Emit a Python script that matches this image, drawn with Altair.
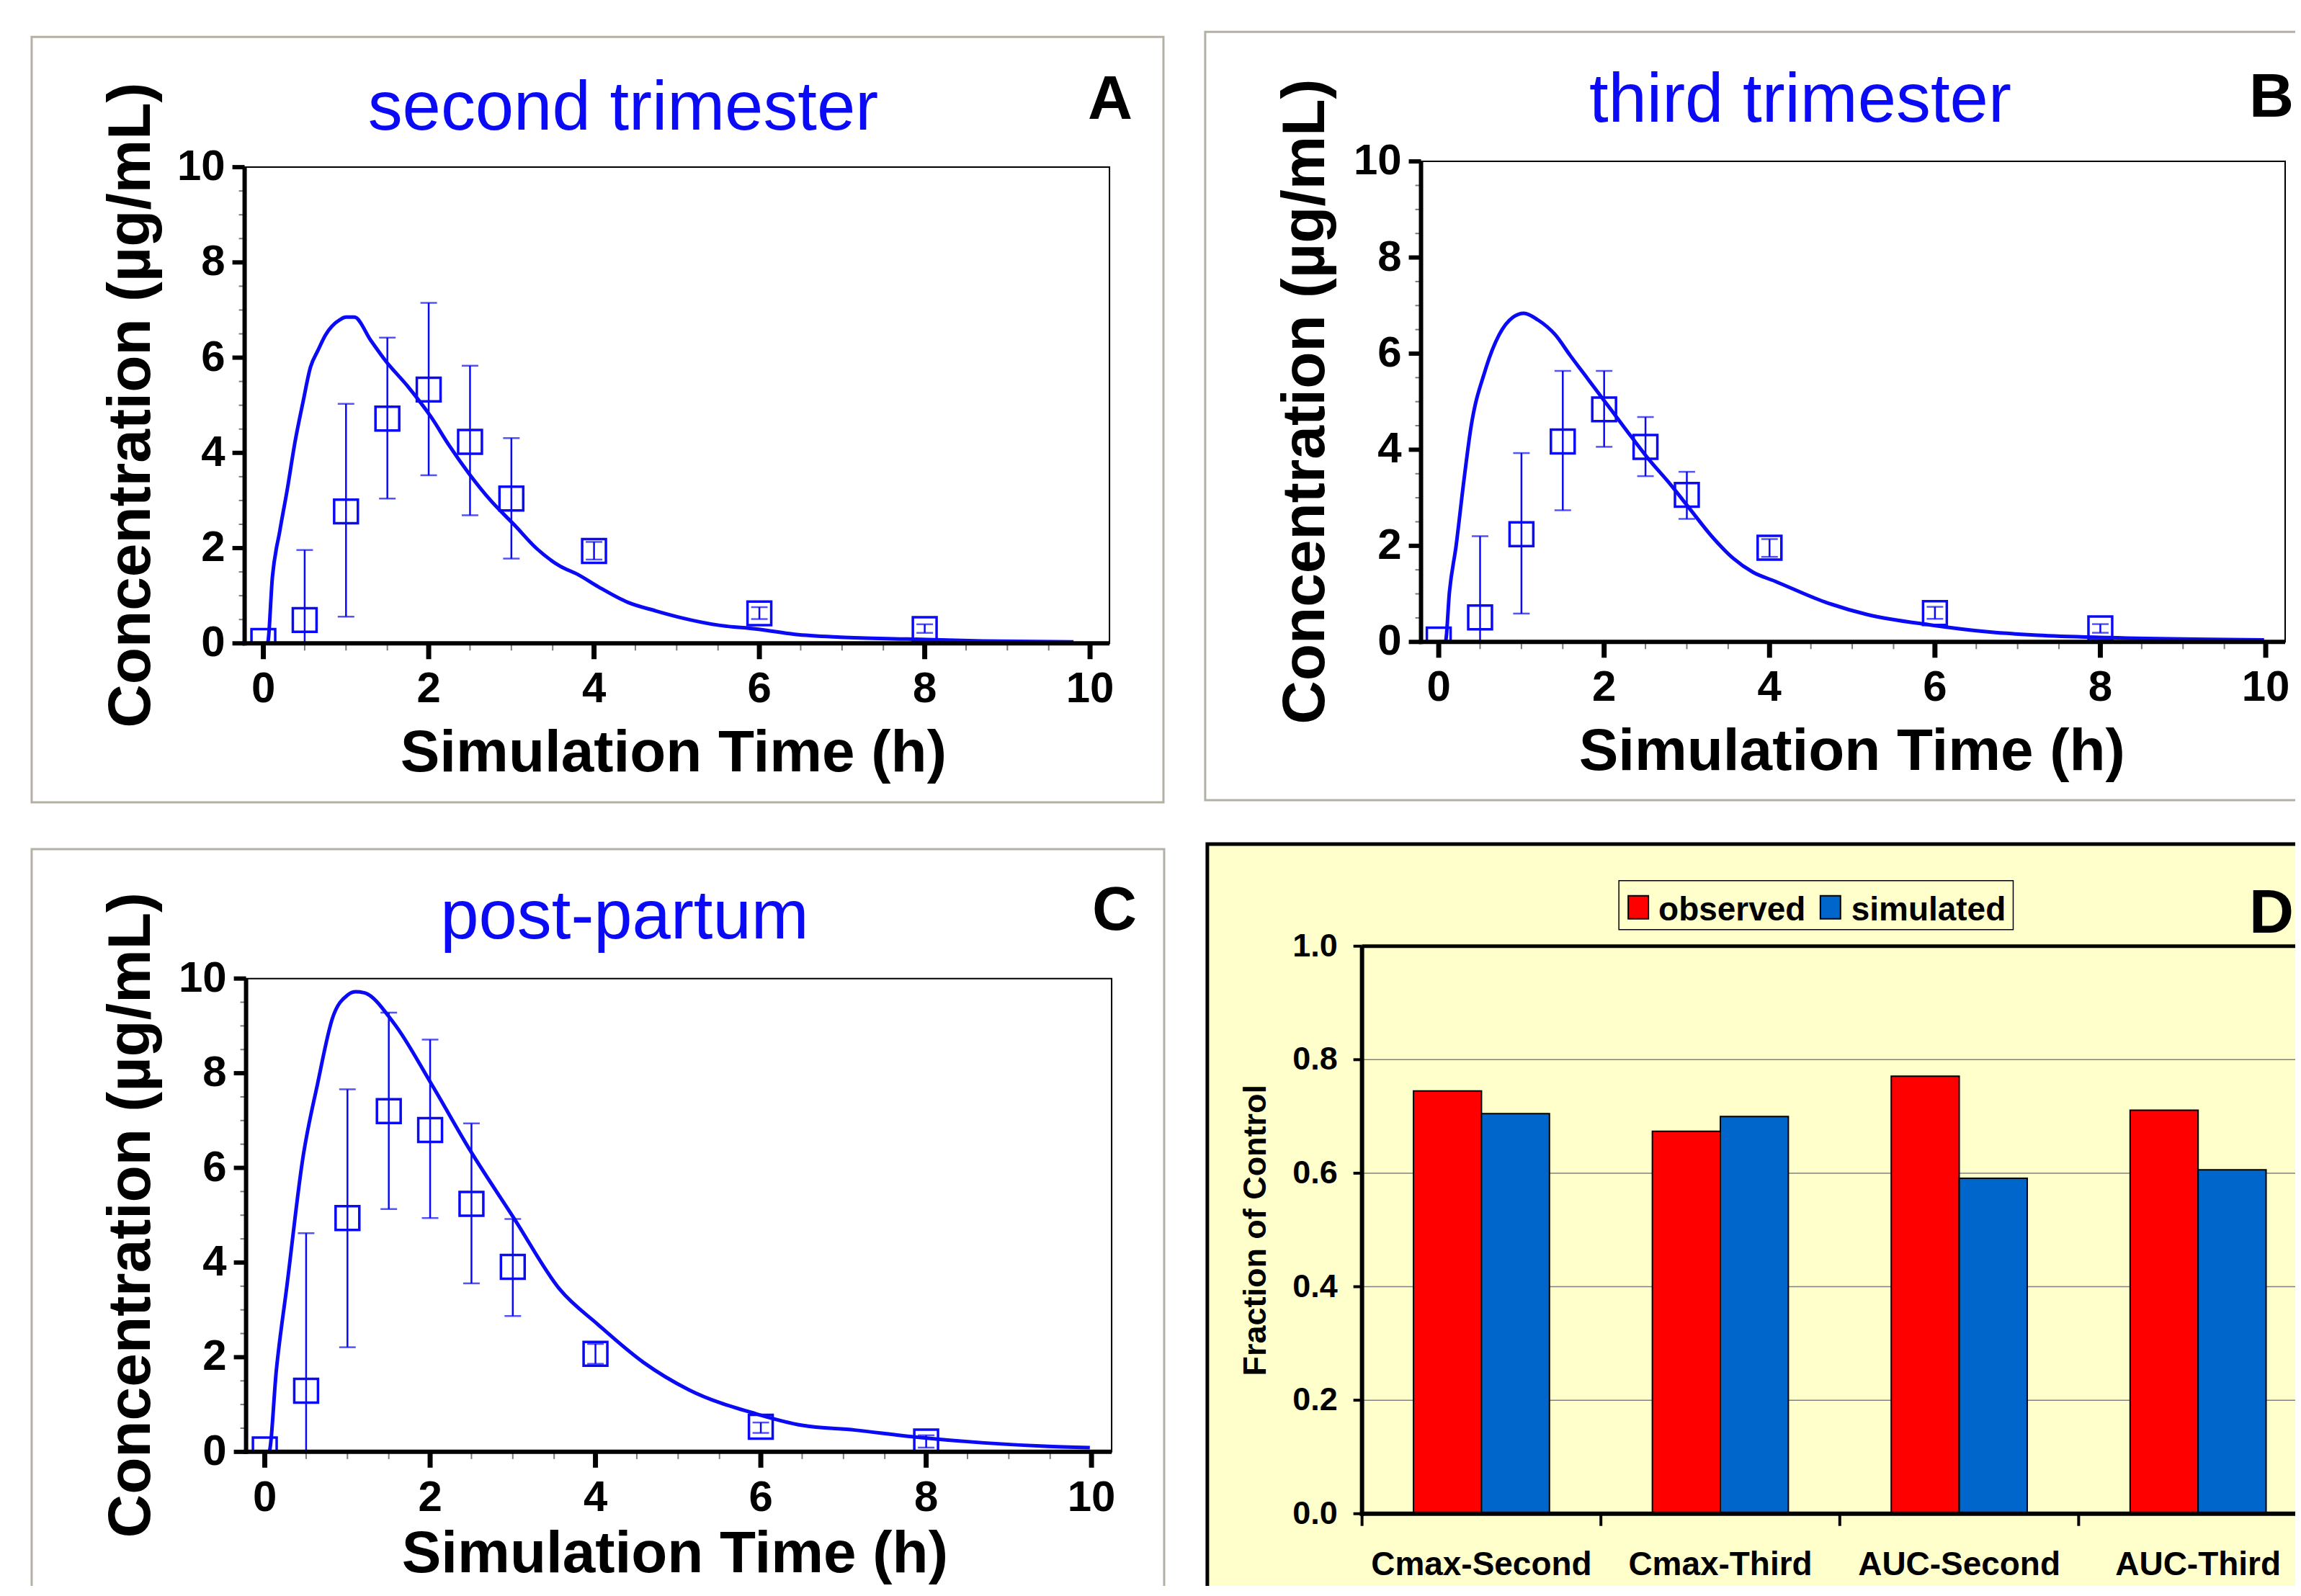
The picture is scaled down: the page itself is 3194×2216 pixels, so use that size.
import altair as alt
import pandas as pd

FONT = "Liberation Sans"
BLUE = "#0A0AF5"
GRAYBORDER = "#B4B0A4"

# ---------------- data ----------------
t_obs = [0, 0.5, 1, 1.5, 2, 2.5, 3, 4, 6, 8]

a_mean = [0.05, 0.49, 2.77, 4.72, 5.33, 4.23, 3.04, 1.94, 0.63, 0.30]
a_low = [0.0, 0.0, 0.56, 3.04, 3.53, 2.69, 1.78, 1.76, 0.51, 0.22]
a_high = [0.0, 1.96, 5.03, 6.42, 7.15, 5.83, 4.31, 2.13, 0.76, 0.40]
a_sim_t = [0, 0.05, 0.11, 0.2, 0.29, 0.38, 0.48, 0.57, 0.66, 0.75, 0.93, 1.0, 1.1, 1.3,
           1.48, 1.75, 2.03, 2.25, 2.49, 2.75, 3.04, 3.3, 3.59, 3.8, 4.05, 4.41, 4.75,
           5.05, 5.51, 5.97, 6.43, 6.98, 7.8, 8.7, 9.8]
a_sim_c = [0, 0.0, 1.4, 2.37, 3.24, 4.2, 5.07, 5.8, 6.15, 6.47, 6.8, 6.85, 6.85, 6.36,
           5.93, 5.39, 4.75, 4.15, 3.56, 3.0, 2.48, 2.0, 1.62, 1.45, 1.19, 0.86, 0.68,
           0.54, 0.38, 0.30, 0.19, 0.13, 0.09, 0.05, 0.03]

b_mean = [0.05, 0.51, 2.24, 4.17, 4.84, 4.06, 3.06, 1.96, 0.60, 0.28]
b_low = [0.0, 0.0, 0.59, 2.74, 4.06, 3.45, 2.56, 1.77, 0.48, 0.19]
b_high = [0.0, 2.2, 3.93, 5.64, 5.64, 4.68, 3.54, 2.14, 0.73, 0.37]
b_sim_t = [0, 0.08, 0.13, 0.21, 0.3, 0.39, 0.56, 0.73, 0.9, 1.03, 1.2, 1.41, 1.59, 1.8,
           2.01, 2.25, 2.53, 2.8, 3.04, 3.3, 3.56, 3.8, 4.07, 4.67, 5.18, 5.96, 6.64,
           7.24, 8.1, 9.98]
b_sim_c = [0, 0.0, 1.05, 2.0, 3.3, 4.47, 5.64, 6.39, 6.76, 6.84, 6.7, 6.39, 5.96, 5.48,
           5.0, 4.45, 3.82, 3.28, 2.76, 2.2, 1.74, 1.45, 1.26, 0.83, 0.57, 0.35, 0.21,
           0.14, 0.09, 0.04]

c_mean = [0.05, 1.29, 4.94, 7.20, 6.80, 5.24, 3.91, 2.07, 0.53, 0.22]
c_low = [0.0, 0.0, 2.21, 5.13, 4.94, 3.56, 2.87, 1.86, 0.40, 0.09]
c_high = [0.0, 4.62, 7.66, 9.28, 8.71, 6.94, 4.92, 2.28, 0.62, 0.35]
c_sim_t = [0, 0.05, 0.14, 0.27, 0.46, 0.64, 0.82, 1.0, 1.1, 1.2, 1.56, 2.01, 2.47, 3.02,
           3.57, 4.03, 4.58, 5.13, 5.95, 6.5, 7.14, 7.78, 8.7, 9.43, 9.98]
c_sim_c = [0, 0.0, 1.73, 3.54, 6.2, 7.79, 9.17, 9.65, 9.72, 9.7, 9.06, 7.79, 6.41, 4.92,
           3.43, 2.69, 1.89, 1.31, 0.8, 0.56, 0.46, 0.33, 0.19, 0.12, 0.09]

categories = ["Cmax-Second", "Cmax-Third", "AUC-Second", "AUC-Third"]
observed = [0.745, 0.674, 0.771, 0.711]
simulated = [0.705, 0.700, 0.591, 0.606]
series_names = ["observed", "simulated"]
series_colors = ["#FF0000", "#0066CC"]

x_major = [0, 2, 4, 6, 8, 10]
y_major = [0, 2, 4, 6, 8, 10]
minor_ticks = [0.5, 1, 1.5, 2.5, 3, 3.5, 4.5, 5, 5.5, 6.5, 7, 7.5, 8.5, 9, 9.5]
d_ticks = [0.0, 0.2, 0.4, 0.6, 0.8, 1.0]
d_grid = [0.2, 0.4, 0.6, 0.8]

panel_titles = ["second trimester", "third trimester", "post-partum"]
panel_letters = ["A", "B", "C", "D"]
y_title_pk = "Concentration (µg/mL)"
x_title_pk = "Simulation Time (h)"
y_title_bar = "Fraction of Control"

# ---------------- layout (view pixels) ----------------
W, H = 3182, 2194
GEO = {
    "A": dict(L=332, R=1534, T=223, B=885, t0=358, t10=1507,
              border=(36, 1609, 42, 1106), title=(858, 171), letter=(1504, 156),
              ytitle=(175, 554), xtitle=(928, 1063)),
    "B": dict(L=1967, R=3168, T=215, B=883, t0=1991.6, t10=3141,
              border=(1667, 3260, 35, 1103), title=(2494, 160), letter=(3118, 153),
              ytitle=(1807, 549), xtitle=(2566, 1061)),
    "C": dict(L=334, R=1537, T=1351, B=2009, t0=360, t10=1509,
              border=(36, 1610, 1171, 2300), title=(860, 1295), letter=(1510, 1283),
              ytitle=(175, 1680), xtitle=(930, 2176)),
}
DG = dict(L=1885, T=1306, B=2095, R=3213, step=332, border=(1670, 3300, 1164, 2300),
          legend=(2242, 2790, 1215, 1283), leg_sq=[2255, 2522], leg_tx=[2297, 2565],
          leg_y=(1236, 1268), leg_base=1270, ytitle=(1737, 1701), letter=(3118, 1287))


def one(v):
    return pd.DataFrame({"s": [v]})


def txt(s, x, y, size, weight="normal", color="black", align="center",
        baseline="alphabetic", angle=0):
    return alt.Chart(one(s)).mark_text(
        font=FONT, fontSize=size, fontWeight=weight, color=color, align=align,
        baseline=baseline, angle=angle).encode(x=alt.value(x), y=alt.value(y), text="s:N")


def pk_panel(key, title, letter, sim_t, sim_c, mean, low, high):
    g = GEO[key]
    L, R, T, B = g["L"], g["R"], g["T"], g["B"]
    xs = alt.Scale(domain=[x_major[0], x_major[-1]], range=[g["t0"], g["t10"]],
                   nice=False, zero=False)
    ys = alt.Scale(domain=[y_major[0], y_major[-1]], range=[B, T], nice=False, zero=False)

    def X(f):
        return alt.X(f, type="quantitative", scale=xs, axis=None)

    def Y(f):
        return alt.Y(f, type="quantitative", scale=ys, axis=None)

    curve = pd.DataFrame({"t": sim_t, "c": sim_c})
    obs = pd.DataFrame({"t": t_obs, "m": mean, "lo": low, "hi": high})
    err = obs[obs["hi"] > obs["lo"]]
    minor = pd.DataFrame({"v": minor_ticks})
    xmaj = pd.DataFrame({"v": x_major})
    ymaj = pd.DataFrame({"v": y_major})
    bx1, bx2, by1, by2 = g["border"]

    layers = [
        alt.Chart(one("")).mark_rect(fill="white", stroke=GRAYBORDER, strokeWidth=3).encode(
            x=alt.value(bx1), x2=alt.value(bx2), y=alt.value(by1), y2=alt.value(by2)),
        alt.Chart(one("")).mark_rect(fill="transparent", stroke="black", strokeWidth=2).encode(
            x=alt.value(L), x2=alt.value(R), y=alt.value(T), y2=alt.value(B)),
        alt.Chart(curve).mark_line(color=BLUE, strokeWidth=5, interpolate="monotone").encode(
            x=X("t"), y=Y("c")),
        alt.Chart(err).mark_rule(color=BLUE, strokeWidth=2.5).encode(
            x=X("t"), y=Y("lo"), y2="hi"),
        alt.Chart(err).mark_tick(orient="horizontal", size=23, thickness=2.5, color=BLUE).encode(
            x=X("t"), y=Y("lo")),
        alt.Chart(err).mark_tick(orient="horizontal", size=23, thickness=2.5, color=BLUE).encode(
            x=X("t"), y=Y("hi")),
        alt.Chart(obs).mark_point(shape="square", size=1089, filled=False, color=BLUE,
                                  strokeWidth=3.5, opacity=1).encode(x=X("t"), y=Y("m")),
        # mask: the plot clips marks at the x axis
        alt.Chart(one("")).mark_rect(fill="white", strokeWidth=0).encode(
            x=alt.value(L), x2=alt.value(R), y=alt.value(B + 2), y2=alt.value(B + 26)),
        alt.Chart(minor).mark_rule(color="#7A7A7A", strokeWidth=2).encode(
            x=X("v"), y=alt.value(B), y2=alt.value(B + 10)),
        alt.Chart(minor).mark_rule(color="#7A7A7A", strokeWidth=2).encode(
            y=Y("v"), x=alt.value(L - 8), x2=alt.value(L)),
        alt.Chart(xmaj).mark_rule(color="black", strokeWidth=7).encode(
            x=X("v"), y=alt.value(B), y2=alt.value(B + 22)),
        alt.Chart(ymaj).mark_rule(color="black", strokeWidth=6).encode(
            y=Y("v"), x=alt.value(L - 17), x2=alt.value(L)),
        alt.Chart(xmaj).mark_text(font=FONT, fontSize=60, fontWeight="bold", color="black",
                                  align="center", baseline="top").encode(
            x=X("v"), y=alt.value(B + 35), text=alt.Text("v:Q", format="d")),
        alt.Chart(ymaj).mark_text(font=FONT, fontSize=60, fontWeight="bold", color="black",
                                  align="right", baseline="middle").encode(
            y=Y("v"), x=alt.value(L - 27), text=alt.Text("v:Q", format="d")),
        alt.Chart(one("")).mark_rule(color="black", strokeWidth=6).encode(
            x=alt.value(L), y=alt.value(T), y2=alt.value(B + 3)),
        alt.Chart(one("")).mark_rule(color="black", strokeWidth=6).encode(
            x=alt.value(L - 3), x2=alt.value(R), y=alt.value(B)),
        txt(title, g["title"][0], g["title"][1], 96, color=BLUE),
        txt(letter, g["letter"][0], g["letter"][1], 86, weight="bold", align="left"),
        txt(y_title_pk, g["ytitle"][0], g["ytitle"][1], 84, weight="bold",
            baseline="middle", angle=270),
        txt(x_title_pk, g["xtitle"][0], g["xtitle"][1], 82, weight="bold"),
    ]
    return alt.layer(*layers)


def bar_panel():
    g = DG
    L, R, T, B = g["L"], g["R"], g["T"], g["B"]
    bars_df = pd.DataFrame({
        "cat": categories * 2,
        "series": [series_names[0]] * len(categories) + [series_names[1]] * len(categories),
        "value": observed + simulated,
    })
    xsc = alt.Scale(domain=categories, range=[L, L + g["step"] * len(categories)],
                    paddingInner=0, paddingOuter=0)
    ysc = alt.Scale(domain=[d_ticks[0], d_ticks[-1]], range=[B, T], nice=False, zero=False)

    def Y(f):
        return alt.Y(f, type="quantitative", scale=ysc, axis=None)

    grid = pd.DataFrame({"g": d_grid})
    ticks = pd.DataFrame({"v": d_ticks})
    cats = pd.DataFrame({"cat": categories})
    bx1, bx2, by1, by2 = g["border"]
    lx1, lx2, ly1, ly2 = g["legend"]

    layers = [
        alt.Chart(one("")).mark_rect(fill="#FFFFCC", stroke="black", strokeWidth=5).encode(
            x=alt.value(bx1), x2=alt.value(bx2), y=alt.value(by1), y2=alt.value(by2)),
        alt.Chart(grid).mark_rule(color="#808080", strokeWidth=1.5).encode(
            y=Y("g"), x=alt.value(L), x2=alt.value(R)),
        alt.Chart(bars_df).mark_bar(stroke="black", strokeWidth=2).encode(
            x=alt.X("cat:N", sort=categories, scale=xsc, axis=None),
            xOffset=alt.XOffset("series:N", sort=series_names,
                                scale=alt.Scale(domain=series_names, range=[0, g["step"]],
                                                paddingInner=0, paddingOuter=0.757)),
            y=Y("value"),
            color=alt.Color("series:N", scale=alt.Scale(domain=series_names,
                                                        range=series_colors), legend=None),
        ),
        alt.Chart(one("")).mark_rule(color="black", strokeWidth=5).encode(
            x=alt.value(L), x2=alt.value(R), y=alt.value(T)),
        alt.Chart(one("")).mark_rule(color="black", strokeWidth=5).encode(
            x=alt.value(R), y=alt.value(T), y2=alt.value(B)),
        alt.Chart(ticks).mark_rule(color="black", strokeWidth=4).encode(
            y=Y("v"), x=alt.value(L - 12), x2=alt.value(L)),
        alt.Chart(ticks).mark_text(font=FONT, fontSize=45, fontWeight="bold", color="black",
                                   align="right", baseline="middle").encode(
            y=Y("v"), x=alt.value(L - 34), text=alt.Text("v:Q", format=".1f")),
        alt.Chart(cats).mark_rule(color="black", strokeWidth=4).encode(
            x=alt.X("cat:N", sort=categories, scale=xsc, axis=None, bandPosition=0),
            y=alt.value(B), y2=alt.value(B + 17)),
        alt.Chart(cats).mark_text(font=FONT, fontSize=46, fontWeight="bold", color="black",
                                  align="center", baseline="top").encode(
            x=alt.X("cat:N", sort=categories, scale=xsc, axis=None),
            y=alt.value(B + 49), text="cat:N"),
        alt.Chart(one("")).mark_rule(color="black", strokeWidth=6).encode(
            x=alt.value(L), y=alt.value(T), y2=alt.value(B + 3)),
        alt.Chart(one("")).mark_rule(color="black", strokeWidth=6).encode(
            x=alt.value(L - 3), x2=alt.value(R), y=alt.value(B)),
        alt.Chart(one("")).mark_rect(fill="#FFFFCC", stroke="black", strokeWidth=1.5).encode(
            x=alt.value(lx1), x2=alt.value(lx2), y=alt.value(ly1), y2=alt.value(ly2)),
    ]
    for i, name in enumerate(series_names):
        layers.append(
            alt.Chart(one("")).mark_rect(fill=series_colors[i], stroke="black",
                                         strokeWidth=2).encode(
                x=alt.value(g["leg_sq"][i]), x2=alt.value(g["leg_sq"][i] + 28),
                y=alt.value(g["leg_y"][0]), y2=alt.value(g["leg_y"][1])))
        layers.append(txt(name, g["leg_tx"][i], g["leg_base"], 46, weight="bold",
                          align="left"))
    layers += [
        txt(y_title_bar, g["ytitle"][0], g["ytitle"][1], 45, weight="bold",
            baseline="middle", angle=270),
        txt(panel_letters[3], g["letter"][0], g["letter"][1], 86, weight="bold",
            align="left"),
    ]
    return alt.layer(*layers)


pA = pk_panel("A", panel_titles[0], panel_letters[0], a_sim_t, a_sim_c, a_mean, a_low, a_high)
pB = pk_panel("B", panel_titles[1], panel_letters[1], b_sim_t, b_sim_c, b_mean, b_low, b_high)
pC = pk_panel("C", panel_titles[2], panel_letters[2], c_sim_t, c_sim_c, c_mean, c_low, c_high)
pD = bar_panel()

chart = alt.layer(pA, pB, pC, pD).resolve_scale(
    x="independent", y="independent"
).properties(
    width=W, height=H,
    autosize=alt.AutoSizeParams(type="none"),
    padding=0,
    background="white",
).configure_view(strokeWidth=0)

chart.save("out.html", embed_options={"renderer": "svg", "actions": False})
